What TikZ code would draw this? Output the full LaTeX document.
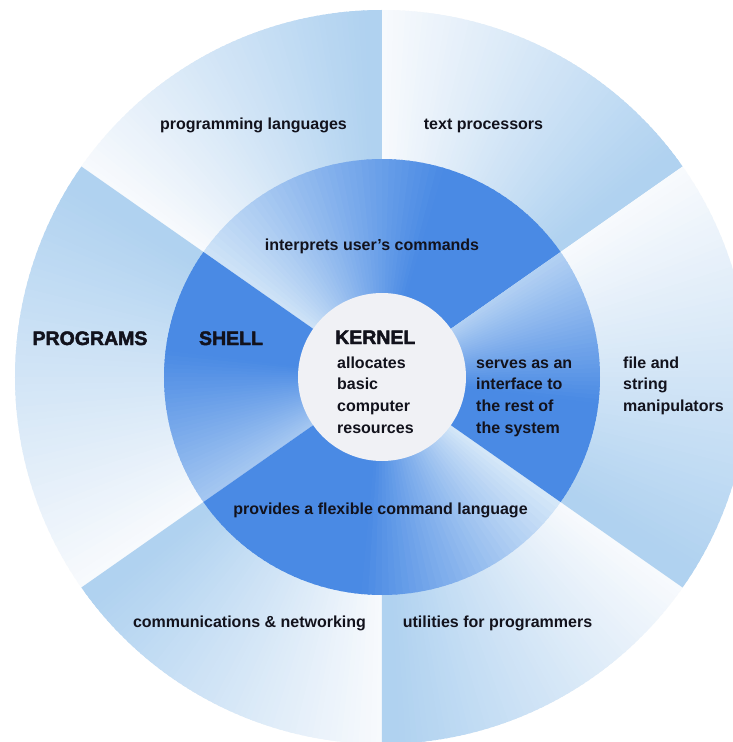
\documentclass[tikz,border=0pt]{standalone}
\usepackage{fontspec}
\setmainfont{Liberation Sans}
\newfontfamily\heavyfamily{Liberation Sans}[UprightFont={Liberation Sans Bold}, UprightFeatures={FakeBold=2.2}]
\definecolor{shelldark}{RGB}{74,138,228}
\definecolor{shelllight}{RGB}{214,232,248}
\definecolor{outerdark}{RGB}{176,210,240}
\definecolor{outerlight}{RGB}{248,250,253}
\definecolor{kernelfill}{RGB}{240,241,245}
\definecolor{ink}{RGB}{18,18,28}
\newcommand\lblfont{\fontsize{16}{21.7}\selectfont\bfseries}
\newcommand\headfont{\heavyfamily\fontsize{19.5}{21}\selectfont}
% #1 start angle, #2 end angle, #3 inner radius, #4 outer radius,
% #5 dark colour, #6 light colour, #7 plateau fraction, #8 dark share at end
\newcommand\gradsector[8]{%
  \foreach \i in {0,...,59}{%
    \pgfmathsetmacro\ta{#1+(#2-#1)*\i/60}%
    \pgfmathsetmacro\tb{#1+(#2-#1)*(\i+1)/60+(\i<59)*0.5}%
    \pgfmathsetmacro\pp{#8+(100-#8)*min(1,max(0,(1-(\i+0.5)/60)/(1-#7)))}%
    \fill[#5!\pp!#6] (\ta:#3) -- (\ta:#4) arc[start angle=\ta, end angle=\tb, radius=#4]
      -- (\tb:#3) arc[start angle=\tb, end angle=\ta, radius=#3] -- cycle;
  }}
\tikzset{
  lbl/.style={font=\lblfont, text=ink, inner sep=0pt},
  head/.style={font=\headfont, text=ink, inner sep=0pt},
}
\begin{document}
\begin{tikzpicture}[x=1pt,y=1pt]
  \useasboundingbox (-382,-365) rectangle (351,377);
  \fill[white] (-382,-365) rectangle (351,377);
  \clip (-382,-365) rectangle (351,377);
  % outer ring (programs)
  \gradsector{35}{90}{200}{367}{outerdark}{outerlight}{0.05}{0}
  \gradsector{90}{145}{200}{367}{outerdark}{outerlight}{0.05}{0}
  \gradsector{145}{215}{200}{367}{outerdark}{outerlight}{0.05}{0}
  \gradsector{215}{270}{200}{367}{outerdark}{outerlight}{0.05}{0}
  \gradsector{270}{325}{200}{367}{outerdark}{outerlight}{0.05}{0}
  \gradsector{325}{395}{200}{367}{outerdark}{outerlight}{0.05}{0}
  % shell ring
  \gradsector{35}{145}{70}{218}{shelldark}{shelllight}{0.35}{5}
  \gradsector{145}{215}{70}{218}{shelldark}{shelllight}{0.4}{35}
  \gradsector{215}{325}{70}{218}{shelldark}{shelllight}{0.45}{0}
  \gradsector{325}{395}{70}{218}{shelldark}{shelllight}{0.4}{25}
  % kernel
  \fill[kernelfill] (0,0) circle[radius=84];
  % labels
  \node[lbl, anchor=base] (proglang) at (-128.5,247) {programming languages};
  \node[lbl, anchor=base] (textproc) at (101.5,247) {text processors};
  \node[lbl, anchor=base] (interp) at (-10,127) {interprets user’s commands};
  \node[head, anchor=base] (programs) at (-292,32) {PROGRAMS};
  \node[head, anchor=base] (shell) at (-151,32) {SHELL};
  \node[head, anchor=base west] (kernel) at (-47,33) {KERNEL};
  \node[lbl, anchor=north west, align=left] (kerneltxt) at (-45,24.2)
    {\strut allocates\\basic\\computer\\resources};
  \node[lbl, anchor=north west, align=left] (serves) at (94,24.2)
    {\strut serves as an\\interface to\\the rest of\\the system};
  \node[lbl, anchor=north west, align=left] (filestr) at (241,24.2)
    {\strut file and\\string\\manipulators};
  \node[lbl, anchor=base] (provides) at (-1.5,-137) {provides a flexible command language};
  \node[lbl, anchor=base] (comms) at (-132.5,-250) {communications \& networking};
  \node[lbl, anchor=base] (utils) at (115.5,-250) {utilities for programmers};
\end{tikzpicture}
\end{document}
